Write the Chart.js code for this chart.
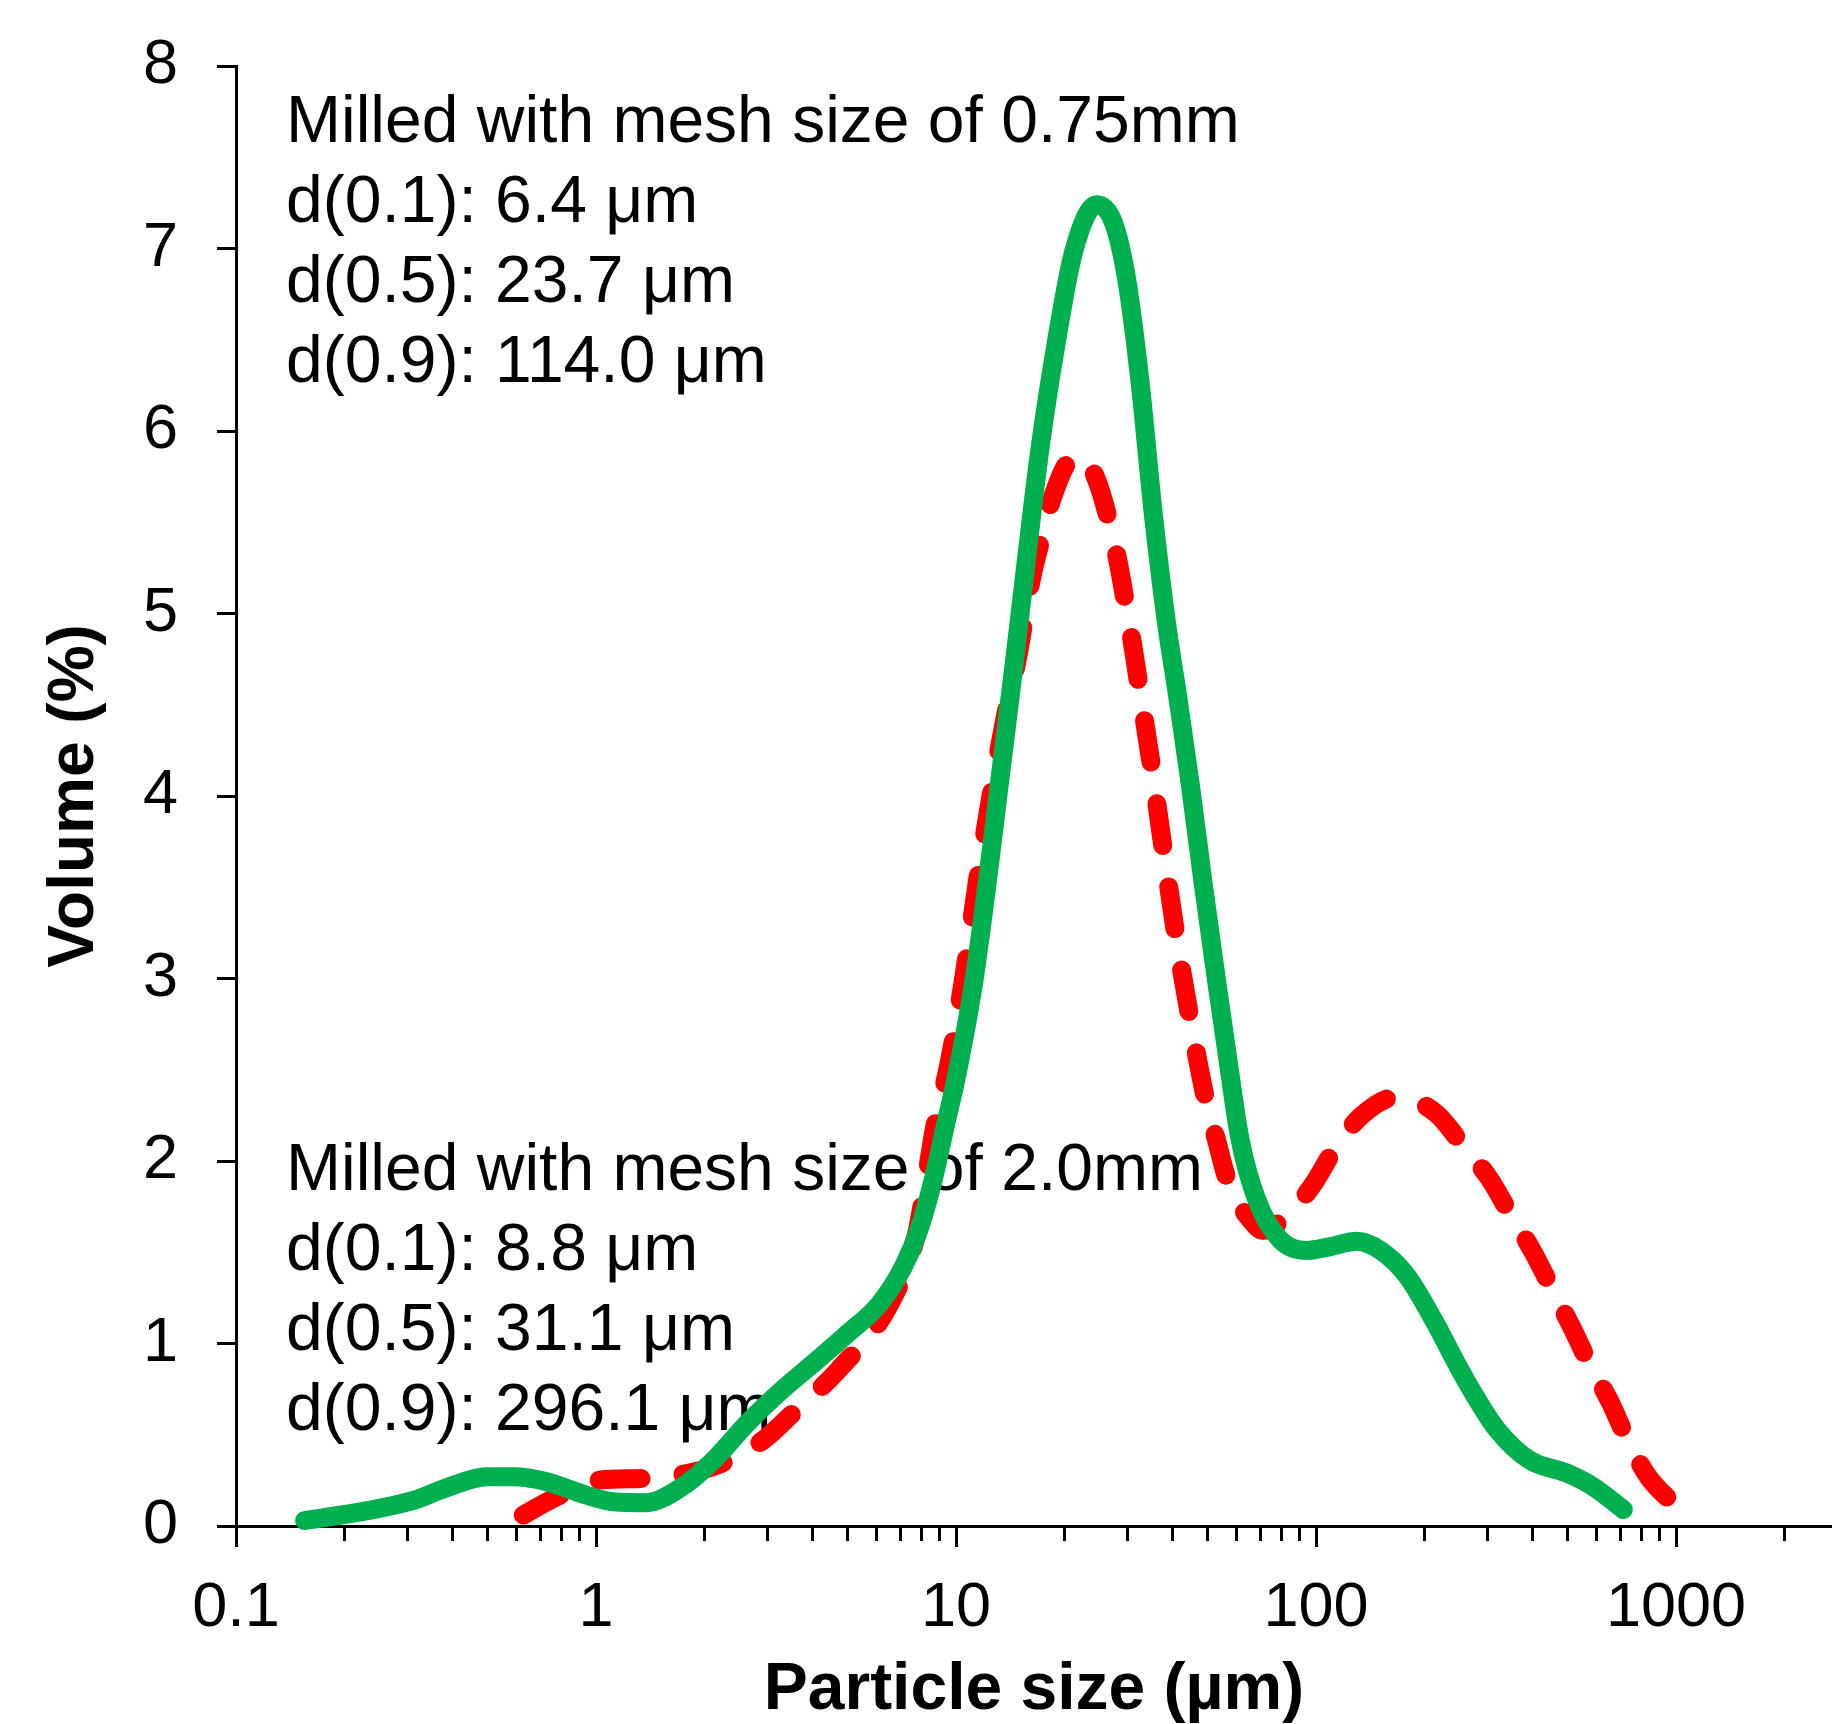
<!DOCTYPE html>
<html>
<head>
<meta charset="utf-8">
<script src="https://cdn.jsdelivr.net/npm/chart.js@4.4.1/dist/chart.umd.min.js"></script>
<style>
    html, body { margin: 0; padding: 0; background: #fff; }
    canvas { display: block; }
</style>
</head>
<body>
<canvas id="psd" width="1832" height="1724"></canvas>
<script>
// Milled with mesh 0.75 mm (green, solid)
const greenSize = [0.155, 0.226, 0.311, 0.385, 0.497, 0.589, 0.73, 0.903, 1.117, 1.38, 1.71, 2.12, 2.62, 3.35, 4.01, 4.97, 6.15, 7.14, 7.94, 8.65, 9.33, 10.0, 11.2, 12.2, 13.2, 14.5, 15.7, 17.1, 19.05, 21.2, 24.6, 27.4, 29.8, 32.4, 35.3, 38.3, 41.4, 44.7, 48.6, 53.0, 56.5, 61.5, 68.4, 79.4, 94.2, 109, 130, 151, 179, 212, 257, 318, 393, 497, 589, 714];
const greenVolume = [0.03, 0.08, 0.14, 0.21, 0.27, 0.27, 0.243, 0.18, 0.133, 0.128, 0.207, 0.36, 0.56, 0.76, 0.89, 1.05, 1.22, 1.42, 1.64, 1.9, 2.19, 2.45, 2.98, 3.52, 4.07, 4.72, 5.3, 5.9, 6.5, 6.98, 7.24, 7.14, 6.83, 6.28, 5.55, 4.97, 4.53, 4.07, 3.52, 2.98, 2.6, 2.12, 1.79, 1.57, 1.51, 1.53, 1.56, 1.51, 1.37, 1.13, 0.82, 0.53, 0.36, 0.29, 0.215, 0.09];

// Milled with mesh 2.0 mm (red, dashed)
const redSize = [0.628, 0.778, 1.005, 1.35, 1.71, 2.21, 2.91, 3.53, 4.71, 6.56, 7.77, 8.75, 9.6, 10.5, 11.5, 12.5, 13.6, 14.8, 16.2, 17.3, 18.5, 20.7, 22.3, 24.5, 26.5, 28.1, 29.5, 30.9, 32.2, 35.0, 37.7, 40.8, 44.7, 49.6, 53.0, 57.1, 65.6, 71.4, 82.8, 97.2, 113, 134, 167.6, 216, 257, 304, 346, 401, 452, 513, 577, 656, 730, 837, 1004];
const redVolume = [0.06, 0.16, 0.25, 0.26, 0.28, 0.34, 0.47, 0.62, 0.855, 1.22, 1.6, 2.2, 2.55, 3.0, 3.55, 4.0, 4.4, 4.75, 5.19, 5.42, 5.63, 5.84, 5.86, 5.74, 5.52, 5.30, 5.07, 4.84, 4.61, 4.15, 3.70, 3.24, 2.78, 2.32, 2.11, 1.88, 1.68, 1.62, 1.70, 1.86, 2.07, 2.25, 2.35, 2.26, 2.08, 1.90, 1.71, 1.50, 1.30, 1.09, 0.88, 0.68, 0.48, 0.27, 0.106];

// axes
const majorTicks = [0.1, 1, 10, 100, 1000];
const xMax = 2712;
const yMin = 0;
const yMax = 8;

// text blocks
const notesFine = ['Milled with mesh size of 0.75mm', 'd(0.1): 6.4 μm', 'd(0.5): 23.7 μm', 'd(0.9): 114.0 μm'];
const notesCoarse = ['Milled with mesh size of 2.0mm', 'd(0.1): 8.8 μm', 'd(0.5): 31.1 μm', 'd(0.9): 296.1 μm'];

const FONT = '"Liberation Sans", Arial, Helvetica, sans-serif';

// all log ticks 0.1, 0.2 ... 2000
const allTicks = [];
majorTicks.forEach(m => {
    for (let k = 1; k <= 9; k++) {
        const v = +(m * k).toPrecision(6);
        if (v <= xMax) allTicks.push(v);
    }
});

const toPoints = (xs, ys) => xs.map((x, i) => ({ x: x, y: ys[i] }));

const extras = {
    id: 'extras',
    beforeDatasetsDraw(chart) {
        const { ctx, chartArea } = chart;
        ctx.save();
        ctx.fillStyle = '#000';
        ctx.font = '66px ' + FONT;
        ctx.textAlign = 'left';
        ctx.textBaseline = 'alphabetic';
        const left = chartArea.left + 50;
        notesFine.forEach((t, i) => ctx.fillText(t, left, chartArea.top + 76 + i * 80));
        notesCoarse.forEach((t, i) => ctx.fillText(t, left, chartArea.bottom - 336 + i * 80));

        // longer marks for the decades
        const xs = chart.scales.x;
        ctx.strokeStyle = '#000';
        ctx.lineWidth = 3;
        majorTicks.forEach(v => {
            const px = Math.round(xs.getPixelForValue(v)) + 0.5;
            ctx.beginPath();
            ctx.moveTo(px, chartArea.bottom);
            ctx.lineTo(px, chartArea.bottom + 21);
            ctx.stroke();
        });
        ctx.restore();
    }
};

new Chart(document.getElementById('psd'), {
    type: 'line',
    data: {
        datasets: [
            {
                label: '0.75mm',
                data: toPoints(greenSize, greenVolume),
                borderColor: '#00B050',
                borderWidth: 19,
                borderCapStyle: 'round',
                borderJoinStyle: 'round',
                pointRadius: 0,
                cubicInterpolationMode: 'monotone',
                fill: false,
                clip: false
            },
            {
                label: '2.0mm',
                data: toPoints(redSize, redVolume),
                borderColor: '#FF0000',
                borderWidth: 19,
                borderDash: [42, 42],
                borderCapStyle: 'round',
                borderJoinStyle: 'round',
                pointRadius: 0,
                cubicInterpolationMode: 'monotone',
                fill: false,
                clip: false
            }
        ]
    },
    options: {
        responsive: false,
        devicePixelRatio: 1,
        animation: false,
        layout: { padding: { top: 66, left: 0, right: 0, bottom: 0 } },
        plugins: {
            legend: { display: false },
            tooltip: { enabled: false }
        },
        scales: {
            x: {
                type: 'logarithmic',
                min: 0.1,
                max: xMax,
                afterBuildTicks: s => { s.ticks = allTicks.map(v => ({ value: v })); },
                afterFit: s => { s.height = 198; s.paddingRight = 0; },
                ticks: {
                    autoSkip: false,
                    maxRotation: 0,
                    minRotation: 0,
                    padding: 30,
                    color: '#000',
                    font: { family: FONT, size: 63 },
                    callback: v => majorTicks.includes(v) ? String(v) : ''
                },
                grid: { drawOnChartArea: false, drawTicks: true, tickLength: 15, tickColor: '#000', tickWidth: 3 },
                border: { display: true, color: '#000', width: 3 },
                title: {
                    display: true,
                    text: 'Particle size (µm)',
                    color: '#000',
                    font: { family: FONT, size: 66, weight: 'bold', lineHeight: 1 },
                    padding: { top: 0, bottom: 0 }
                }
            },
            y: {
                min: yMin,
                max: yMax,
                afterFit: s => { s.width = 236; s.paddingTop = 0; s.paddingBottom = 0; },
                ticks: {
                    stepSize: 1,
                    padding: 39,
                    color: '#000',
                    font: { family: FONT, size: 63 }
                },
                grid: { drawOnChartArea: false, drawTicks: true, tickLength: 19, tickColor: '#000', tickWidth: 3 },
                border: { display: true, color: '#000', width: 3 },
                title: {
                    display: true,
                    text: 'Volume (%)',
                    color: '#000',
                    font: { family: FONT, size: 64, weight: 'bold', lineHeight: 1 },
                    padding: { top: 43, bottom: 0 }
                }
            }
        }
    },
    plugins: [extras]
});
</script>
</body>
</html>
